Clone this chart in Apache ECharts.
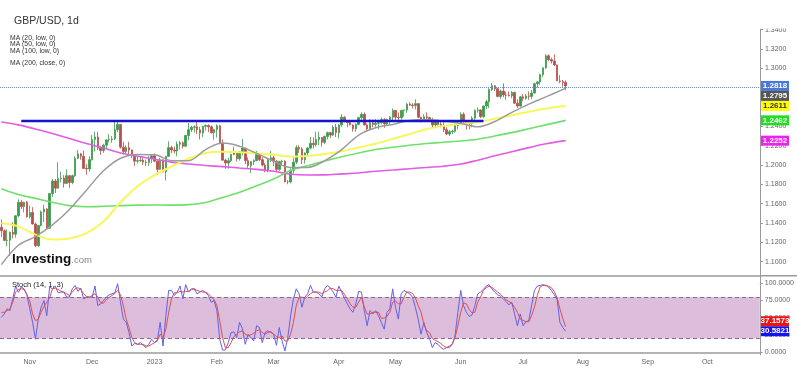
<!DOCTYPE html>
<html><head><meta charset="utf-8">
<script src="https://cdn.jsdelivr.net/npm/echarts@6/dist/echarts.min.js"></script>
<style>html,body{margin:0;padding:0;background:#fff}#c{width:797px;height:370px}</style>
</head><body><div id="c"></div>
<script>
// ---- Calendar (trading days) ----
const START_DATE = '2022-10-18';
const END_DATE = '2023-10-26';
const tickDates = ['2022-11-01','2022-12-01','2023-01-02','2023-02-01','2023-03-01','2023-04-03','2023-05-01','2023-06-01','2023-07-03','2023-08-01','2023-09-01','2023-10-02'];
const tickLabels = ['Nov','Dec','2023','Feb','Mar','Apr','May','Jun','Jul','Aug','Sep','Oct'];
const priceTicks = [1.10,1.12,1.14,1.16,1.18,1.20,1.22,1.24,1.26,1.28,1.30,1.32,1.34];
const stochTicks = [0,25,50,75,100];

// ---- GBP/USD daily candles ----
const openP = [
1.1357,1.1320,1.1220,1.1222,1.1305,1.1285,1.1475,1.1615,1.1570,1.1615,
1.1465,1.1510,1.1390,1.1165,1.1375,1.1515,1.1545,1.1345,1.1705,1.1835,
1.1760,1.1860,1.1865,1.1810,1.1890,1.1820,1.1890,1.2070,1.2115,1.2090,
1.1965,1.1960,1.2055,1.2265,1.2290,1.2175,1.2150,1.2205,1.2260,1.2265,
1.2270,1.2365,1.2420,1.2185,1.2140,1.2180,1.2155,1.2100,1.2040,1.2045,
1.2050,1.2030,1.2025,1.2070,1.2095,1.2040,1.1955,1.2055,1.1930,1.2090,
1.2180,1.2155,1.2145,1.2215,1.2230,1.2195,1.2305,1.2365,1.2390,1.2395,
1.2365,1.2330,1.2400,1.2410,1.2395,1.2335,1.2365,1.2405,1.2225,1.2050,
1.2020,1.2045,1.2110,1.2125,1.2065,1.2135,1.2175,1.2045,1.1995,1.2035,
1.2045,1.2110,1.2055,1.2000,1.1945,1.2050,1.2075,1.2040,1.1955,1.2035,
1.2040,1.1825,1.1825,1.1945,1.2030,1.2180,1.2165,1.2055,1.2125,1.2175,
1.2225,1.2210,1.2265,1.2285,1.2235,1.2295,1.2335,1.2310,1.2390,1.2335,
1.2415,1.2495,1.2455,1.2440,1.2415,1.2375,1.2420,1.2490,1.2525,1.2415,
1.2375,1.2435,1.2420,1.2432,1.2440,1.2470,1.2425,1.2470,1.2495,1.2565,
1.2495,1.2490,1.2565,1.2570,1.2630,1.2620,1.2615,1.2635,1.2495,1.2450,
1.2500,1.2490,1.2455,1.2415,1.2445,1.2420,1.2410,1.2365,1.2320,1.2345,
1.2350,1.2410,1.2435,1.2525,1.2450,1.2435,1.2430,1.2485,1.2565,1.2570,
1.2500,1.2610,1.2655,1.2780,1.2820,1.2790,1.2710,1.2765,1.2725,1.2722,
1.2715,1.2750,1.2640,1.2610,1.2705,1.2690,1.2715,1.2710,1.2745,1.2840,
1.2860,1.2935,1.3005,1.3130,1.3090,1.3075,1.3035,1.2870,1.2865,1.2855];
const highP = [
1.1438,1.1335,1.1335,1.1310,1.1410,1.1480,1.1645,1.1640,1.1620,1.1630,
1.1580,1.1565,1.1405,1.1380,1.1530,1.1590,1.1555,1.1710,1.1855,1.1855,
1.2030,1.1930,1.1895,1.1955,1.1890,1.1900,1.2090,1.2155,1.2125,1.2150,
1.2010,1.2090,1.2310,1.2345,1.2345,1.2200,1.2220,1.2265,1.2320,1.2300,
1.2445,1.2446,1.2425,1.2240,1.2205,1.2240,1.2160,1.2105,1.2085,1.2090,
1.2090,1.2055,1.2090,1.2110,1.2120,1.2050,1.2075,1.2055,1.2095,1.2245,
1.2200,1.2190,1.2245,1.2250,1.2245,1.2310,1.2435,1.2405,1.2410,1.2450,
1.2395,1.2405,1.2420,1.2420,1.2410,1.2375,1.2420,1.2415,1.2265,1.2065,
1.2075,1.2115,1.2190,1.2125,1.2145,1.2270,1.2175,1.2080,1.2040,1.2060,
1.2145,1.2125,1.2080,1.2020,1.2065,1.2145,1.2100,1.2050,1.2045,1.2055,
1.2050,1.1845,1.1965,1.2080,1.2205,1.2205,1.2185,1.2130,1.2185,1.2290,
1.2285,1.2345,1.2345,1.2290,1.2305,1.2345,1.2345,1.2410,1.2425,1.2425,
1.2525,1.2505,1.2465,1.2445,1.2420,1.2430,1.2500,1.2545,1.2545,1.2430,
1.2475,1.2470,1.2475,1.2450,1.2490,1.2485,1.2480,1.2505,1.2585,1.2570,
1.2545,1.2570,1.2575,1.2640,1.2650,1.2640,1.2680,1.2640,1.2500,1.2525,
1.2545,1.2500,1.2490,1.2470,1.2470,1.2445,1.2445,1.2390,1.2365,1.2365,
1.2445,1.2445,1.2545,1.2545,1.2465,1.2445,1.2505,1.2575,1.2595,1.2575,
1.2615,1.2675,1.2795,1.2850,1.2825,1.2800,1.2780,1.2845,1.2760,1.2760,
1.2765,1.2760,1.2680,1.2715,1.2735,1.2735,1.2760,1.2775,1.2850,1.2865,
1.2945,1.3010,1.3145,1.3145,1.3110,1.3145,1.3040,1.2930,1.2880,1.2875];
const lowP = [
1.1255,1.1213,1.1160,1.1059,1.1240,1.1250,1.1460,1.1545,1.1510,1.1455,
1.1445,1.1385,1.1150,1.1155,1.1365,1.1410,1.1335,1.1340,1.1670,1.1710,
1.1760,1.1820,1.1765,1.1810,1.1765,1.1800,1.1875,1.2060,1.2055,1.1965,
1.1900,1.1930,1.2045,1.2140,1.2155,1.2105,1.2125,1.2165,1.2235,1.2230,
1.2260,1.2340,1.2170,1.2110,1.2120,1.2105,1.2070,1.1990,1.2015,1.2030,
1.2000,1.1990,1.1990,1.2020,1.2030,1.1900,1.1950,1.1925,1.1840,1.2085,
1.2125,1.2120,1.2090,1.2160,1.2170,1.2185,1.2255,1.2340,1.2335,1.2320,
1.2265,1.2290,1.2355,1.2340,1.2325,1.2260,1.2285,1.2215,1.2045,1.1960,
1.1960,1.2030,1.2100,1.2035,1.2045,1.2100,1.2010,1.1970,1.1915,1.2000,
1.2040,1.2040,1.1985,1.1925,1.1925,1.2030,1.1990,1.1925,1.1940,1.1995,
1.1820,1.1800,1.1810,1.1910,1.2010,1.2125,1.2010,1.2015,1.2100,1.2160,
1.2170,1.2190,1.2205,1.2190,1.2215,1.2265,1.2280,1.2300,1.2290,1.2275,
1.2395,1.2440,1.2390,1.2410,1.2345,1.2345,1.2410,1.2450,1.2410,1.2345,
1.2370,1.2390,1.2395,1.2370,1.2420,1.2385,1.2410,1.2420,1.2465,1.2445,
1.2435,1.2470,1.2500,1.2540,1.2610,1.2585,1.2575,1.2485,1.2440,1.2445,
1.2470,1.2445,1.2390,1.2395,1.2410,1.2390,1.2340,1.2310,1.2300,1.2320,
1.2335,1.2370,1.2425,1.2430,1.2365,1.2370,1.2390,1.2435,1.2540,1.2485,
1.2490,1.2580,1.2590,1.2765,1.2765,1.2700,1.2685,1.2700,1.2675,1.2710,
1.2690,1.2630,1.2590,1.2605,1.2660,1.2675,1.2675,1.2680,1.2740,1.2800,
1.2830,1.2910,1.2995,1.3075,1.3050,1.3025,1.2870,1.2845,1.2810,1.2775];
const closeP = [
1.1320,1.1220,1.1222,1.1305,1.1285,1.1475,1.1615,1.1570,1.1615,1.1465,
1.1510,1.1390,1.1165,1.1375,1.1515,1.1545,1.1345,1.1705,1.1835,1.1760,
1.1860,1.1865,1.1810,1.1890,1.1820,1.1890,1.2070,1.2115,1.2090,1.1965,
1.1960,1.2055,1.2265,1.2290,1.2175,1.2150,1.2205,1.2260,1.2265,1.2270,
1.2365,1.2420,1.2185,1.2140,1.2180,1.2155,1.2100,1.2040,1.2045,1.2050,
1.2030,1.2025,1.2070,1.2095,1.2040,1.1955,1.2055,1.1930,1.2090,1.2180,
1.2155,1.2145,1.2215,1.2230,1.2195,1.2305,1.2365,1.2390,1.2395,1.2365,
1.2330,1.2400,1.2410,1.2395,1.2335,1.2365,1.2405,1.2225,1.2050,1.2020,
1.2045,1.2110,1.2125,1.2065,1.2135,1.2175,1.2045,1.1995,1.2035,1.2045,
1.2110,1.2055,1.2000,1.1945,1.2050,1.2075,1.2040,1.1955,1.2035,1.2040,
1.1825,1.1825,1.1945,1.2030,1.2180,1.2165,1.2055,1.2125,1.2175,1.2225,
1.2210,1.2265,1.2285,1.2235,1.2295,1.2335,1.2310,1.2390,1.2335,1.2415,
1.2495,1.2455,1.2440,1.2415,1.2375,1.2420,1.2490,1.2525,1.2415,1.2375,
1.2435,1.2420,1.2432,1.2440,1.2470,1.2425,1.2470,1.2495,1.2565,1.2495,
1.2490,1.2565,1.2570,1.2630,1.2620,1.2615,1.2635,1.2495,1.2450,1.2500,
1.2490,1.2455,1.2415,1.2445,1.2420,1.2410,1.2365,1.2320,1.2345,1.2350,
1.2410,1.2435,1.2525,1.2450,1.2435,1.2430,1.2485,1.2565,1.2570,1.2500,
1.2610,1.2655,1.2780,1.2820,1.2790,1.2710,1.2765,1.2725,1.2722,1.2715,
1.2750,1.2640,1.2610,1.2705,1.2690,1.2715,1.2710,1.2745,1.2840,1.2860,
1.2935,1.3005,1.3130,1.3090,1.3075,1.3035,1.2870,1.2865,1.2855,1.2818];

// ---- Moving averages (read at sample trading-day indices) ----
const maDays = [0,6,12,18,24,30,36,42,48,54,60,66,72,78,84,90,96,102,108,114,120,126,132,138,144,150,156,162,168,174,180,186,192,199];
const ma20 = [1.097,1.117,1.126,1.138,1.154,1.174,1.194,1.207,1.211,1.2107,1.2045,1.2045,1.216,1.2228,1.2195,1.212,1.204,1.1975,1.1975,1.2045,1.216,1.231,1.2385,1.242,1.246,1.2472,1.2452,1.243,1.2395,1.245,1.2545,1.263,1.2705,1.2795];
const ma50 = [1.140,1.1365,1.128,1.123,1.124,1.1295,1.1415,1.1615,1.178,1.1895,1.1985,1.2065,1.2125,1.2137,1.2132,1.2122,1.2105,1.2087,1.2092,1.2113,1.2143,1.2182,1.222,1.227,1.232,1.2372,1.2405,1.2428,1.2445,1.2478,1.2515,1.255,1.2585,1.2611];
const ma100 = [1.1755,1.1695,1.1655,1.1615,1.158,1.1569,1.1573,1.158,1.1585,1.1587,1.1585,1.159,1.1612,1.1665,1.1718,1.1785,1.1855,1.1943,1.1993,1.2040,1.2085,1.2125,1.2160,1.2183,1.2205,1.2222,1.2236,1.2248,1.2267,1.2300,1.2335,1.2375,1.2415,1.2462];
const ma200 = [1.2445,1.2415,1.2372,1.2325,1.2275,1.2222,1.2175,1.2125,1.2090,1.2060,1.2030,1.2010,1.1995,1.1983,1.1969,1.1955,1.1935,1.1905,1.1897,1.1898,1.1908,1.1918,1.1935,1.1948,1.1962,1.1975,1.1988,1.2010,1.2050,1.2095,1.2138,1.2180,1.2220,1.2252];

// ---- Drawn resistance line ----
const resistanceDays = [7, 170];
const resistanceLevel = 1.2455;

// ---- Stochastic (14,1,3) ----
const stochK = [
50.7,55.6,63,60.4,77.5,96,87,94.6,92,82.4,
63,43.4,19,48.2,65.3,75,53,94.6,92,96,
86.3,87.3,87.3,80,80,92,97,88.3,93,77.5,
80,80,80,96,67.8,70,75,80,83.4,84.8,
86.3,99.5,72.6,48.2,43.4,28.7,9.2,13,11.6,14,
10.2,6.8,11.6,19,14,18,43.4,9.2,53,89.7,
89.7,82.4,87.3,96,77.5,98,87.3,92,92,84.8,
87.3,89.7,86.3,82.4,72.6,75,60.4,19,3.3,3.3,
14,28.7,29.7,21.4,43.4,34.6,11.6,26.3,21.4,16.5,
38.5,36,14,28.7,31.2,28.7,26.3,10.2,36,16.5,
1.9,21.4,53,77.5,92,84.8,65.3,80,84.8,97,
87.3,87.3,84.8,80,92,97,93.1,87.3,80,96,
87.3,78.5,70.2,62.9,58,70.2,88.3,87.3,60.4,38.5,
60.4,55.6,60.4,53,43.4,33.6,58,62.9,92,65.3,
48.2,84.8,89.7,87.3,84.8,80,65.3,48.2,26.3,43.4,
28.7,20,6.8,14,11.6,6.8,4.3,6.8,9.2,11.6,
23.8,58,89.7,67.8,58,52.1,54.1,67.8,84.8,87.3,
91.2,96,98,92,87.3,83.4,81.4,77.5,73.6,68.7,
72.6,55.6,38.5,55.6,38.5,44.3,45.8,67.8,89.7,96,
97,98,97,94.6,89.7,83.4,76.5,43.4,36,30.5821];
const stochD = [
58,58,60.4,62.9,72.6,87.3,91.2,92,91.2,83.9,
73.6,55.6,45.8,48.2,58,66.8,72.6,79,92,93.1,
91.2,88.7,87.3,84.8,82.4,87.3,92,93.6,91.2,84.8,
80.9,80,82.4,84.8,80,71.7,71.2,76.5,79.5,82.4,
85.3,89.7,83.4,67.8,48.2,36,21.4,14,11.6,11.6,
11.6,9.2,9.2,11.6,14,16.5,26.3,21.4,33.6,58,
77.5,86.3,86.3,88.3,87.3,88.3,88.3,90.7,92,89.7,
88.3,87.3,87.3,84.8,80.4,76.5,67.8,45.8,21.4,6.8,
6.8,14,22.9,26.3,29.7,31.2,26.3,23.8,25.3,27.7,
31.2,32.6,28.7,26.3,28.7,30.2,26.3,22.9,21.4,23.8,
16.5,16.5,26.3,43.4,67.8,80,80,77.5,81.4,84.8,
87.3,87.3,87.3,84.8,87.3,89.2,93.1,92.2,89.7,89.7,
89.7,83.9,77.5,70.2,65.3,65.3,72.6,80,65.3,55.6,
55.6,58,58,58,49.2,49.7,52.1,58,72.6,74.6,
70.2,70.2,80,87.3,87.3,85.3,79,67.8,58,40.9,
31.2,28.7,19.9,17.5,15.5,12.6,9.2,6.8,6.8,11.6,
21.4,38.5,58,71.7,70.2,61.9,57,58,72.6,80,
89.7,93.6,96,94.1,90.7,87.3,84.4,80,76.1,73.6,
71.2,65.3,58,48.2,46.3,44.3,44.3,53,65.3,82.4,
94.6,97,97,95.6,93.6,88.3,79,62.9,49.2,37.1573];
const stochBands = [20, 80];

// ---------------------------------------------------------------
function weekdays(a, b) {
  const out = []; let d = new Date(a + 'T00:00:00Z'); const e = new Date(b + 'T00:00:00Z');
  while (d <= e) { const w = d.getUTCDay(); if (w !== 0 && w !== 6) out.push(d.toISOString().slice(0, 10)); d = new Date(d.getTime() + 86400000); }
  return out;
}
const categories = weekdays(START_DATE, END_DATE);
const candleData = openP.map((o, i) => [o, closeP[i], lowP[i], highP[i]]);
const last = closeP.length - 1;
const FONT = 'Liberation Sans, Arial, sans-serif';
const AX = '#9a9a9a';

function maSeries(name, vals, color, width) {
  return { name, type: 'line', xAxisIndex: 0, yAxisIndex: 0, data: maDays.map((d, k) => [d, vals[k]]),
    smooth: 0.35, symbol: 'none', showSymbol: false, silent: true, z: 3,
    lineStyle: { color, width } };
}

const chart = echarts.init(document.getElementById('c'), null, { renderer: 'canvas' });
const option = {
  animation: false,
  backgroundColor: '#ffffff',
  title: { text: 'GBP/USD, 1d', left: 9, top: 11, textStyle: { fontSize: 10.5, fontWeight: 'normal', color: '#333', fontFamily: FONT } },
  grid: [
    { left: 0, right: 37, top: 29, height: 246.7 },
    { left: 0, right: 37, top: 276, height: 79 }
  ],
  xAxis: [
    { type: 'category', gridIndex: 0, data: categories, boundaryGap: true,
      axisLine: { show: true, lineStyle: { color: AX, width: 1.5 } }, axisTick: { show: false }, axisLabel: { show: false }, splitLine: { show: false } },
    { type: 'category', gridIndex: 1, data: categories, boundaryGap: true,
      axisLine: { show: true, lineStyle: { color: AX, width: 1.5 } }, axisTick: { show: false },
      axisLabel: { fontSize: 7, color: '#666', fontFamily: FONT, margin: 4,
        interval: (idx, val) => tickDates.indexOf(val) >= 0,
        formatter: (val) => { const k = tickDates.indexOf(val); return k >= 0 ? tickLabels[k] : ''; } },
      splitLine: { show: false } }
  ],
  yAxis: [
    { type: 'value', gridIndex: 0, position: 'right', min: 1.0855, max: 1.3407,
      axisLine: { show: true, lineStyle: { color: AX, width: 1 } },
      axisTick: { show: true, length: 3, lineStyle: { color: AX }, customValues: priceTicks },
      axisLabel: { fontSize: 7, color: '#666', fontFamily: FONT, margin: 5, customValues: priceTicks, formatter: v => v.toFixed(4) },
      splitLine: { show: false } },
    { type: 'value', gridIndex: 1, position: 'right', min: -3.9, max: 110.6,
      axisLine: { show: true, lineStyle: { color: AX, width: 1 } },
      axisTick: { show: true, length: 3, lineStyle: { color: AX }, customValues: stochTicks },
      axisLabel: { fontSize: 7, color: '#666', fontFamily: FONT, margin: 5, customValues: stochTicks, formatter: v => v.toFixed(4) },
      splitLine: { show: false } }
  ],
  series: [
    { name: 'GBP/USD', type: 'candlestick', xAxisIndex: 0, yAxisIndex: 0, data: candleData, barWidth: 2, z: 2,
      itemStyle: { color: '#3b9a4b', color0: '#b5504a', borderColor: '#3b9a4b', borderColor0: '#b5504a', borderWidth: 0.8 },
      markLine: { silent: true, symbol: ['none', 'none'], label: { show: false },
        lineStyle: { type: 'dotted', color: '#6d8fd6', width: 1 }, data: [{ yAxis: closeP[last] }] } },
    maSeries('MA200', ma200, '#e35ce3', 1.6),
    maSeries('MA100', ma100, '#6fe06a', 1.6),
    maSeries('MA50', ma50, '#f7f75a', 2),
    maSeries('MA20', ma20, '#9c9c9c', 1.5),
    { name: 'Resistance', type: 'line', xAxisIndex: 0, yAxisIndex: 0, symbol: 'none', silent: true, z: 5,
      data: resistanceDays.map(d => [d, resistanceLevel]), lineStyle: { color: '#1414c8', width: 2.5 } },
    { name: '%K', type: 'line', xAxisIndex: 1, yAxisIndex: 1, data: stochK, symbol: 'none', silent: true, z: 3,
      lineStyle: { color: '#6060ee', width: 1 },
      markArea: { silent: true, itemStyle: { color: '#dcbedc' }, data: [[{ yAxis: stochBands[0] }, { yAxis: stochBands[1] }]] },
      markLine: { silent: true, symbol: ['none', 'none'], label: { show: false },
        lineStyle: { type: [4, 3], color: '#8a6a8a', width: 1 }, data: stochBands.map(b => ({ yAxis: b })) } },
    { name: '%D', type: 'line', xAxisIndex: 1, yAxisIndex: 1, data: stochD, symbol: 'none', silent: true, z: 4,
      lineStyle: { color: '#e24c4c', width: 1 } }
  ]
};
chart.setOption(option);

// ---- value tags on the right axis, placed through the axis scales ----
function tags(list, yAxisIndex) {
  const placed = []; const H = 10;
  list.forEach(t => {
    let y = chart.convertToPixel({ yAxisIndex }, t.v);
    placed.forEach(p => { if (Math.abs(y - p) < H) y = (y >= p) ? p + H : p - H; });
    placed.push(y);
    t.y = y;
  });
  return list;
}
const mainTags = tags([
  { v: closeP[last], bg: '#4a78d8', fg: '#fff' },
  { v: ma20[ma20.length - 1], bg: '#555555', fg: '#fff' },
  { v: ma50[ma50.length - 1], bg: '#ffff00', fg: '#333' },
  { v: ma100[ma100.length - 1], bg: '#22dd22', fg: '#fff' },
  { v: ma200[ma200.length - 1], bg: '#ee22ee', fg: '#fff' }
], 0);
const stochTags = tags([
  { v: stochK[stochK.length - 1], bg: '#1414ee', fg: '#fff' },
  { v: stochD[stochD.length - 1], bg: '#ee1414', fg: '#fff' }
], 1);
const gfx = [];
[...mainTags, ...stochTags].forEach(t => {
  gfx.push({ type: 'rect', z: 100, shape: { x: 761, y: t.y - 5, width: 28, height: 10 }, style: { fill: t.bg } });
  gfx.push({ type: 'text', z: 101, x: 775, y: t.y, style: { text: t.v.toFixed(4), fill: t.fg, font: 'bold 8px ' + FONT, align: 'center', verticalAlign: 'middle', textAlign: 'center', textVerticalAlign: 'middle' } });
});
// top clip of axis labels and separator extension
gfx.push({ type: 'rect', z: 90, shape: { x: 758, y: 0, width: 39, height: 28.6 }, style: { fill: '#fff' } });
gfx.push({ type: 'line', z: 90, shape: { x1: 760, y1: 275.7, x2: 797, y2: 275.7 }, style: { stroke: AX, lineWidth: 1.5 } });
// legend texts
const maLegend = ['MA (20, low, 0)', 'MA (50, low, 0)', 'MA (100, low, 0)', 'MA (200, close, 0)'];
const maLegendY = [38, 44.5, 51, 63.5];
maLegend.forEach((s, k) => gfx.push({ type: 'text', z: 100, x: 10, y: maLegendY[k], style: { text: s, fill: '#333', font: '6.8px ' + FONT, verticalAlign: 'middle', textVerticalAlign: 'middle' } }));
gfx.push({ type: 'text', z: 100, x: 12, y: 285, style: { text: 'Stoch (14, 1, 3)', fill: '#222', font: '7.5px ' + FONT, verticalAlign: 'middle', textVerticalAlign: 'middle' } });
gfx.push({ type: 'text', z: 100, x: 12, y: 266, style: { text: '{a|Investing}{b|.com}', verticalAlign: 'bottom', textVerticalAlign: 'bottom',
  rich: { a: { fontSize: 13.5, fontWeight: 'bold', fill: '#111', color: '#111', fontFamily: FONT }, b: { fontSize: 9.5, fill: '#888', color: '#888', fontFamily: FONT, padding: [2, 0, 0, 0] } } } });
chart.setOption({ graphic: { elements: gfx } });
</script></body></html>
